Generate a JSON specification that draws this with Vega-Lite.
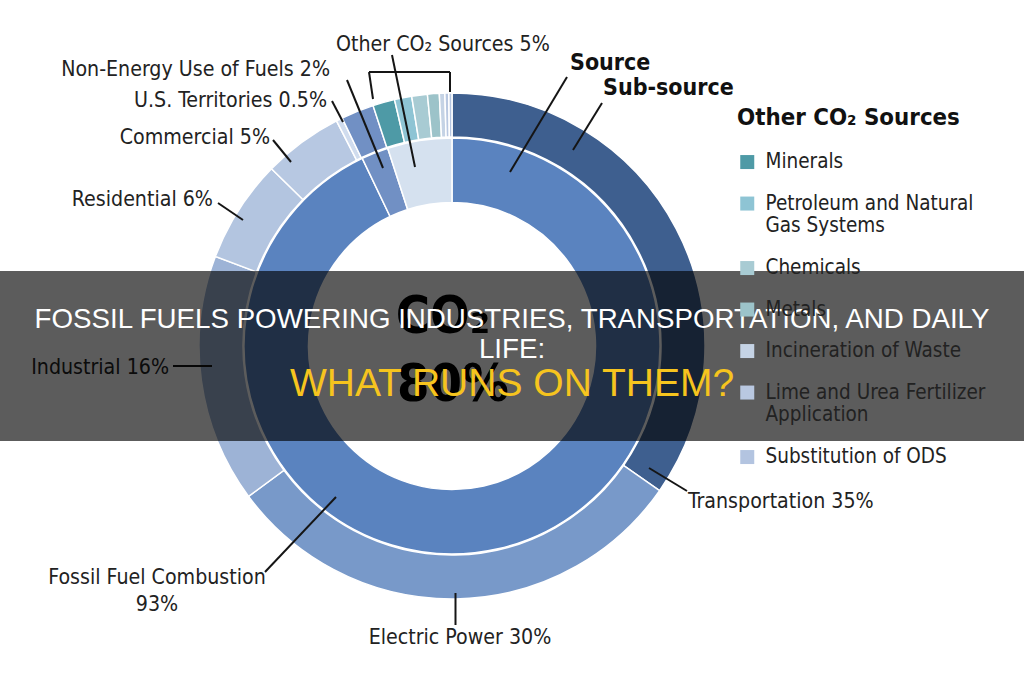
{
  "$schema": "https://vega.github.io/schema/vega-lite/v6.json",
  "width": 1024,
  "height": 680,
  "autosize": "none",
  "padding": 0,
  "background": "white",
  "config": {"view": {"stroke": null}},
  "datasets": {
    "outer": [
      {"name": "Transportation", "value": 34.7, "k": 1},
      {"name": "Electric Power", "value": 30.2, "k": 2},
      {"name": "Industrial", "value": 15.9, "k": 3},
      {"name": "Residential", "value": 6.6, "k": 4},
      {"name": "Commercial", "value": 5.1, "k": 5},
      {"name": "U.S. Territories", "value": 0.4, "k": 6},
      {"name": "Non-Energy Use of Fuels", "value": 2.1, "k": 7},
      {"name": "Minerals", "value": 1.4, "k": 8},
      {"name": "Petroleum and Natural Gas Systems", "value": 1.1, "k": 9},
      {"name": "Chemicals", "value": 1.0, "k": 10},
      {"name": "Metals", "value": 0.75, "k": 11},
      {"name": "Incineration of Waste", "value": 0.35, "k": 12},
      {"name": "Lime and Urea Fertilizer Application", "value": 0.25, "k": 13},
      {"name": "Substitution of ODS", "value": 0.2, "k": 14}
    ],
    "inner": [
      {"name": "Fossil Fuel Combustion", "value": 92.9, "k": 1},
      {"name": "Non-Energy Use of Fuels", "value": 2.1, "k": 2},
      {"name": "Other CO₂ Sources", "value": 5.0, "k": 3}
    ],
    "lines": [
      {"x": 567, "y": 77, "x2": 510, "y2": 172},
      {"x": 602, "y": 103, "x2": 573, "y2": 150},
      {"x": 392, "y": 55, "x2": 415, "y2": 167},
      {"x": 369, "y": 72, "x2": 450, "y2": 72},
      {"x": 369, "y": 72, "x2": 373, "y2": 99},
      {"x": 450, "y": 72, "x2": 450, "y2": 92},
      {"x": 347, "y": 80, "x2": 383, "y2": 168},
      {"x": 332, "y": 101, "x2": 343, "y2": 122},
      {"x": 273, "y": 140, "x2": 291, "y2": 162},
      {"x": 218, "y": 203, "x2": 243, "y2": 220},
      {"x": 173, "y": 366, "x2": 212, "y2": 366},
      {"x": 265, "y": 572, "x2": 336, "y2": 497},
      {"x": 455.5, "y": 593, "x2": 455.5, "y2": 625},
      {"x": 649, "y": 468, "x2": 687, "y2": 491}
    ],
    "labels": [
      {"text": "Non-Energy Use of Fuels 2%", "x": 330, "y": 70, "side": "r"},
      {"text": "U.S. Territories 0.5%", "x": 327, "y": 101, "side": "r"},
      {"text": "Commercial 5%", "x": 270, "y": 138, "side": "r"},
      {"text": "Residential 6%", "x": 213, "y": 200, "side": "r"},
      {"text": "Industrial 16%", "x": 169, "y": 368, "side": "r"},
      {"text": "Other CO₂ Sources 5%", "x": 336, "y": 45, "side": "l"},
      {"text": "Transportation 35%", "x": 688, "y": 502, "side": "l"},
      {"text": "Fossil Fuel Combustion", "x": 157, "y": 578, "side": "c"},
      {"text": "93%", "x": 157, "y": 605, "side": "c"},
      {"text": "Electric Power 30%", "x": 460, "y": 638, "side": "c"}
    ],
    "heads": [
      {"text": "Source", "x": 570, "y": 63},
      {"text": "Sub-source", "x": 603, "y": 88}
    ],
    "center": [
      {"text": "CO₂", "x": 443, "y": 333},
      {"text": "80%", "x": 453, "y": 401}
    ],
    "band": [
      {"x": 0, "x2": 1024, "y": 271, "y2": 441}
    ],
    "title": [
      {"text": "FOSSIL FUELS POWERING INDUSTRIES, TRANSPORTATION, AND DAILY", "x": 512, "y": 328},
      {"text": "LIFE:", "x": 512, "y": 358}
    ],
    "subtitle": [
      {"text": "WHAT RUNS ON THEM?", "x": 512, "y": 396}
    ]
  },
  "resolve": {"scale": {"theta": "independent"}},
  "layer": [
    {
      "data": {"name": "outer"},
      "mark": {"type": "arc", "radius": 253, "radius2": 209, "stroke": "white", "strokeWidth": 1.5},
      "encoding": {
        "theta": {"field": "value", "type": "quantitative", "stack": true},
        "order": {"field": "k", "type": "quantitative"},
        "x": {"datum": 452, "type": "quantitative", "scale": {"domain": [0, 1024], "nice": false, "zero": false}, "axis": null},
        "y": {"datum": 346, "type": "quantitative", "scale": {"domain": [0, 680], "nice": false, "zero": false, "reverse": true}, "axis": null},
        "color": {
          "field": "name", "type": "nominal",
          "scale": {
            "domain": ["Transportation", "Electric Power", "Industrial", "Residential", "Commercial", "U.S. Territories", "Non-Energy Use of Fuels", "Minerals", "Petroleum and Natural Gas Systems", "Chemicals", "Metals", "Incineration of Waste", "Lime and Urea Fertilizer Application", "Substitution of ODS", "Fossil Fuel Combustion", "Other CO₂ Sources"],
            "range": ["#3e5f8f", "#7899c9", "#9db3d6", "#b3c5e0", "#b7c8e2", "#d0dcee", "#7190c4", "#4e9aa6", "#8ec4d4", "#a8cbd3", "#9cc3c9", "#c5d3e5", "#b9c8e1", "#b3c4e0", "#5a83bf", "#d5e1ef"]
          },
          "legend": {
            "values": ["Minerals", "Petroleum and Natural Gas Systems", "Chemicals", "Metals", "Incineration of Waste", "Lime and Urea Fertilizer Application", "Substitution of ODS"],
            "title": "Other CO₂ Sources",
            "orient": "none",
            "legendX": 737,
            "legendY": 106,
            "padding": 0,
            "titleFont": "DejaVu Sans Condensed, DejaVu Sans",
            "titleFontSize": 23.8,
            "titleFontWeight": "bold",
            "titleColor": "#111111",
            "titlePadding": 22,
            "titleLimit": 400,
            "titleAnchor": "start",
            "labelFont": "DejaVu Sans Condensed, DejaVu Sans",
            "labelFontSize": 20.5,
            "labelColor": "#222222",
            "labelLimit": 400,
            "labelOffset": 8,
            "symbolType": "square",
            "symbolSize": 196,
            "symbolStrokeWidth": 0,
            "rowPadding": 20.5,
            "labelExpr": "datum.label == 'Petroleum and Natural Gas Systems' ? ['Petroleum and Natural', 'Gas Systems'] : datum.label == 'Lime and Urea Fertilizer Application' ? ['Lime and Urea Fertilizer', 'Application'] : datum.label",
            "encode": {"labels": {"update": {"lineHeight": {"value": 26}}}}
          }
        }
      }
    },
    {
      "data": {"name": "inner"},
      "mark": {"type": "arc", "radius": 208, "radius2": 143.5, "stroke": "white", "strokeWidth": 1.5},
      "encoding": {
        "theta": {"field": "value", "type": "quantitative", "stack": true},
        "order": {"field": "k", "type": "quantitative"},
        "x": {"datum": 452, "type": "quantitative"},
        "y": {"datum": 346, "type": "quantitative"},
        "color": {"field": "name", "type": "nominal"}
      }
    },
    {
      "data": {"name": "lines"},
      "mark": {"type": "rule", "color": "#151515", "strokeWidth": 2},
      "encoding": {
        "x": {"field": "x", "type": "quantitative"},
        "y": {"field": "y", "type": "quantitative"},
        "x2": {"field": "x2"},
        "y2": {"field": "y2"}
      }
    },
    {
      "data": {"name": "labels"},
      "transform": [{"filter": "datum.side == 'r'"}],
      "mark": {"type": "text", "align": "right", "baseline": "middle", "font": "DejaVu Sans Condensed, DejaVu Sans", "fontSize": 21.2, "color": "#222222"},
      "encoding": {
        "x": {"field": "x", "type": "quantitative"},
        "y": {"field": "y", "type": "quantitative"},
        "text": {"field": "text"}
      }
    },
    {
      "data": {"name": "labels"},
      "transform": [{"filter": "datum.side == 'l'"}],
      "mark": {"type": "text", "align": "left", "baseline": "middle", "font": "DejaVu Sans Condensed, DejaVu Sans", "fontSize": 21.2, "color": "#222222"},
      "encoding": {
        "x": {"field": "x", "type": "quantitative"},
        "y": {"field": "y", "type": "quantitative"},
        "text": {"field": "text"}
      }
    },
    {
      "data": {"name": "labels"},
      "transform": [{"filter": "datum.side == 'c'"}],
      "mark": {"type": "text", "align": "center", "baseline": "middle", "font": "DejaVu Sans Condensed, DejaVu Sans", "fontSize": 21.2, "color": "#222222"},
      "encoding": {
        "x": {"field": "x", "type": "quantitative"},
        "y": {"field": "y", "type": "quantitative"},
        "text": {"field": "text"}
      }
    },
    {
      "data": {"name": "heads"},
      "mark": {"type": "text", "align": "left", "baseline": "middle", "font": "DejaVu Sans Condensed, DejaVu Sans", "fontSize": 23, "fontWeight": "bold", "color": "#111111"},
      "encoding": {
        "x": {"field": "x", "type": "quantitative"},
        "y": {"field": "y", "type": "quantitative"},
        "text": {"field": "text"}
      }
    },
    {
      "data": {"name": "center"},
      "mark": {"type": "text", "align": "center", "baseline": "alphabetic", "font": "DejaVu Sans Condensed, DejaVu Sans", "fontSize": 52, "fontWeight": "bold", "color": "#000000"},
      "encoding": {
        "x": {"field": "x", "type": "quantitative"},
        "y": {"field": "y", "type": "quantitative"},
        "text": {"field": "text"}
      }
    },
    {
      "data": {"name": "band"},
      "mark": {"type": "rect", "color": "#000000", "opacity": 0.64},
      "encoding": {
        "x": {"field": "x", "type": "quantitative"},
        "x2": {"field": "x2"},
        "y": {"field": "y", "type": "quantitative"},
        "y2": {"field": "y2"}
      }
    },
    {
      "data": {"name": "title"},
      "mark": {"type": "text", "align": "center", "baseline": "alphabetic", "font": "Liberation Sans", "fontSize": 27.7, "color": "#ffffff"},
      "encoding": {
        "x": {"field": "x", "type": "quantitative"},
        "y": {"field": "y", "type": "quantitative"},
        "text": {"field": "text"}
      }
    },
    {
      "data": {"name": "subtitle"},
      "mark": {"type": "text", "align": "center", "baseline": "alphabetic", "font": "Liberation Sans", "fontSize": 39, "color": "#f6c41e"},
      "encoding": {
        "x": {"field": "x", "type": "quantitative"},
        "y": {"field": "y", "type": "quantitative"},
        "text": {"field": "text"}
      }
    }
  ]
}
